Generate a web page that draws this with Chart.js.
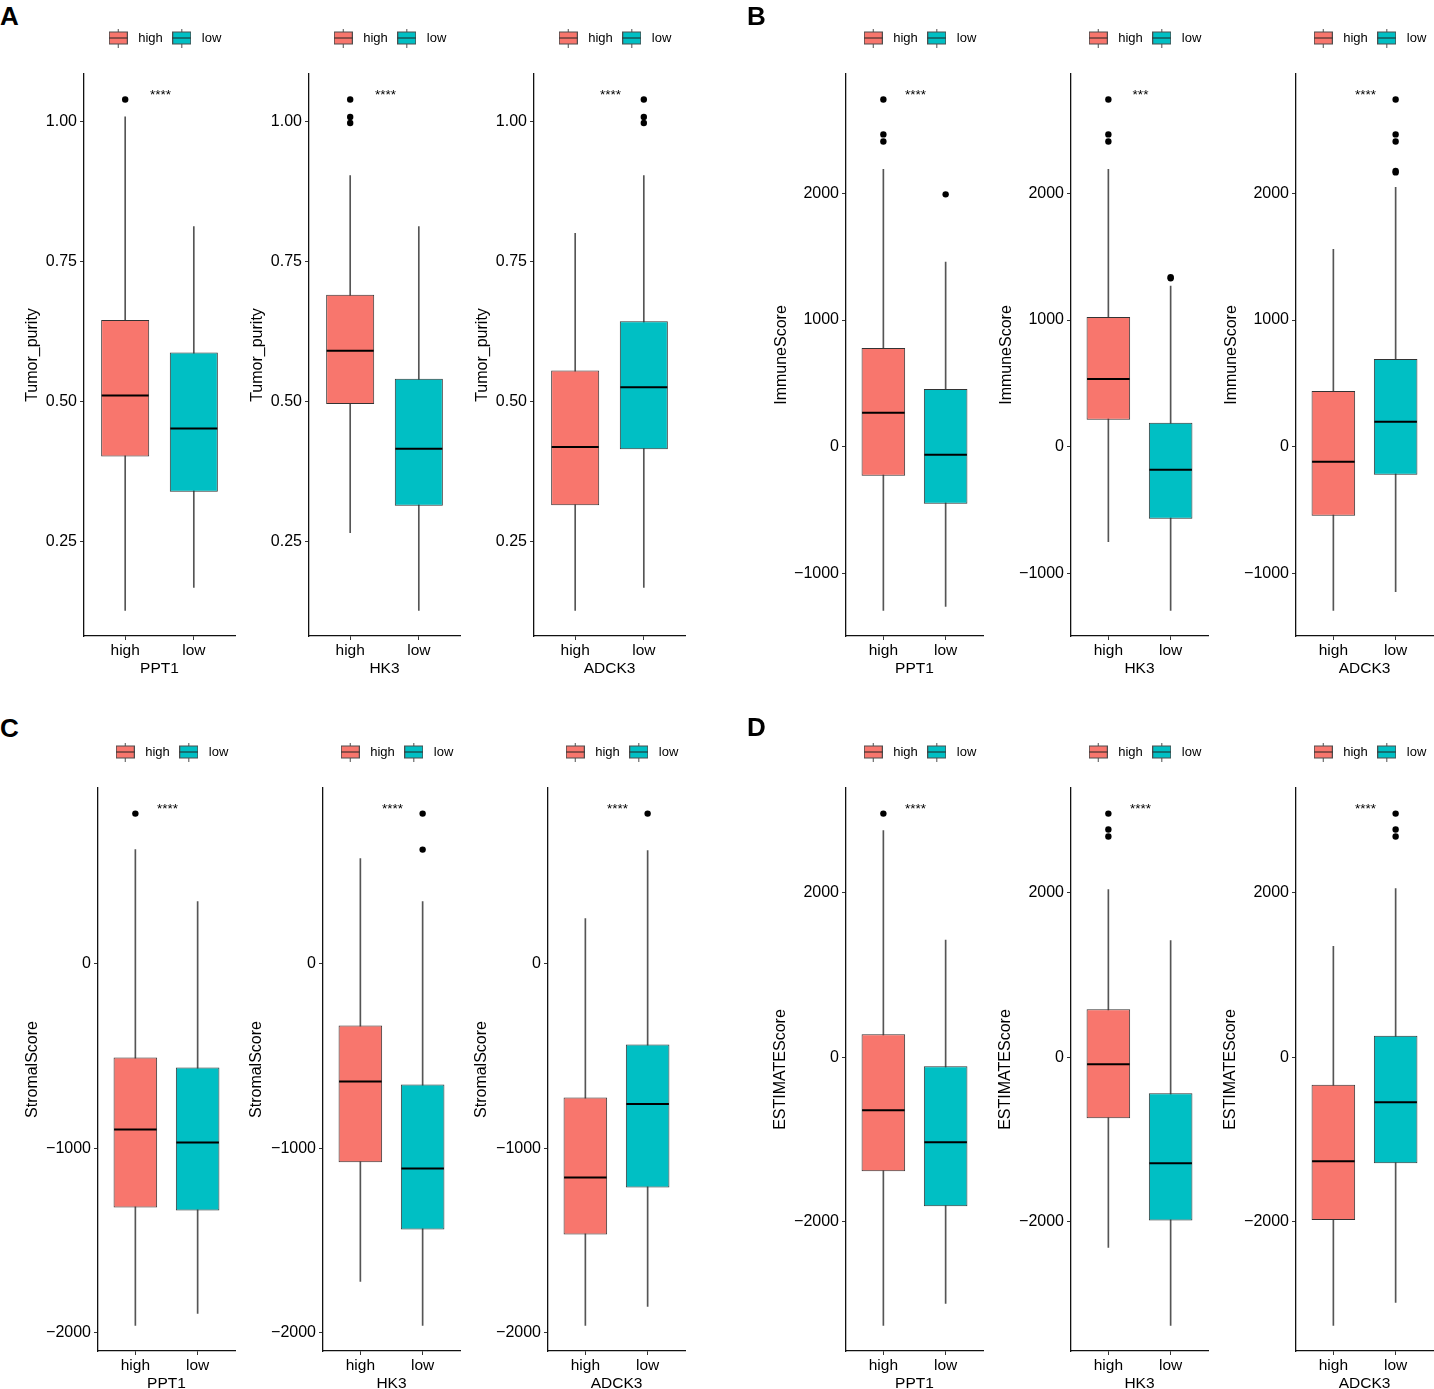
<!DOCTYPE html>
<html>
<head>
<meta charset="utf-8">
<script src="https://cdn.jsdelivr.net/npm/chart.js@4.4.1/dist/chart.umd.min.js"></script>
<style>
html,body{margin:0;padding:0;background:#fff;}
#page{position:relative;width:1434px;height:1389px;overflow:hidden;background:#fff;}
.cell{position:absolute;}
.letter{position:absolute;font-family:"Liberation Sans",Arial,sans-serif;font-weight:bold;font-size:26px;line-height:26px;color:#000;}
</style>
</head>
<body>
<div id="page"></div>
<script>
// ---------------- data ----------------
const genes = ['PPT1', 'HK3', 'ADCK3'];
const groups = ['high', 'low'];
const panelLetters = ['A', 'B', 'C', 'D'];
const scoreNames = ['Tumor_purity', 'ImmuneScore', 'StromalScore', 'ESTIMATEScore'];

// five-number summaries per gene: [lower whisker, Q1, median, Q3, upper whisker]
const purityHigh = [[0.127, 0.402, 0.511, 0.646, 1.009], [0.266, 0.496, 0.591, 0.691, 0.904], [0.127, 0.315, 0.419, 0.556, 0.801]];
const purityLow  = [[0.168, 0.339, 0.452, 0.588, 0.813], [0.127, 0.314, 0.416, 0.541, 0.813], [0.168, 0.415, 0.526, 0.644, 0.904]];
const purityHighOut = [[1.04], [1.04, 1.009, 0.998], []];
const purityLowOut  = [[], [], [1.04, 1.009, 0.998]];

const immuneHigh = [[-1291, -228, 268, 780, 2189], [-748, 213, 535, 1024, 2189], [-1291, -543, -118, 441, 1559]];
const immuneLow  = [[-1260, -449, -63, 457, 1457], [-1291, -567, -181, 189, 1268], [-1142, -220, 197, 693, 2047]];
const immuneHighOut = [[2740, 2465, 2409], [2740, 2465, 2409], []];
const immuneLowOut  = [[1992], [1339, 1330], [2740, 2465, 2409, 2177, 2165]];

const stromalHigh = [[-1960, -1321, -899, -509, 617], [-1722, -1077, -639, -336, 568], [-1960, -1467, -1159, -725, 244]];
const stromalLow  = [[-1895, -1337, -969, -563, 336], [-1960, -1440, -1110, -655, 336], [-1857, -1213, -761, -438, 612]];
const stromalHighOut = [[812], [], []];
const stromalLowOut  = [[], [812, 617], [812]];

const estimateHigh = [[-3258, -1386, -644, 280, 2754], [-2310, -742, -85, 584, 2036], [-3258, -1976, -1265, -334, 1346]];
const estimateLow  = [[-2991, -1811, -1033, -109, 1422], [-3258, -1982, -1289, -438, 1416], [-2979, -1289, -547, 261, 2049]];
const estimateHighOut = [[2960], [2960, 2766, 2681], []];
const estimateLowOut  = [[], [], [2960, 2766, 2681]];

const purityTicks = [0.25, 0.5, 0.75, 1.0];
const purityTickLabels = ['0.25', '0.50', '0.75', '1.00'];
const immuneTicks = [-1000, 0, 1000, 2000];
const immuneTickLabels = ['\u22121000', '0', '1000', '2000'];
const stromalTicks = [-2000, -1000, 0];
const stromalTickLabels = ['\u22122000', '\u22121000', '0'];
const estimateTicks = [-2000, 0, 2000];
const estimateTickLabels = ['\u22122000', '0', '2000'];

const puritySig = ['****', '****', '****'];
const immuneSig = ['****', '***', '****'];
const stromalSig = ['****', '****', '****'];
const estimateSig = ['****', '****', '****'];

const panelHigh = [purityHigh, immuneHigh, stromalHigh, estimateHigh];
const panelLow = [purityLow, immuneLow, stromalLow, estimateLow];
const panelHighOut = [purityHighOut, immuneHighOut, stromalHighOut, estimateHighOut];
const panelLowOut = [purityLowOut, immuneLowOut, stromalLowOut, estimateLowOut];
const panelTicks = [purityTicks, immuneTicks, stromalTicks, estimateTicks];
const panelTickLabels = [purityTickLabels, immuneTickLabels, stromalTickLabels, estimateTickLabels];
const panelSig = [puritySig, immuneSig, stromalSig, estimateSig];

// ---------------- layout / style ----------------
const FAMILY = '"Liberation Sans", Arial, sans-serif';
const FILLS = ['#F8766D', '#00BFC4'];
const ROW_TOP = [0, 714];
const PANEL_ROW = [0, 0, 1, 1];
const AXIS_X = [[84, 309, 534], [846, 1071, 1296], [98, 323, 548], [846, 1071, 1296]];
const PLOT_W = [151, 137, 137, 137];
const YTITLE_X = [[32.5, 258, 483], [782, 1007, 1232], [32.5, 257, 482], [781, 1006, 1231]];
const LETTER_POS = [[0, 3], [747, 3], [0, 715], [747, 714]];
const PLOT_TOP = 74;
const PLOT_H = [562, 563];
const X_AXIS_H = 42;
const LEGEND_SHIFT = 3.5;
const X_FONT = 15.5;
const Y_FONT = 16;

function makeKey(fill) {
  const c = document.createElement('canvas');
  c.width = 19; c.height = 19;
  const g = c.getContext('2d');
  g.strokeStyle = '#4d4d4d'; g.lineWidth = 1;
  g.beginPath(); g.moveTo(9.5, 0); g.lineTo(9.5, 3.5); g.moveTo(9.5, 15.5); g.lineTo(9.5, 19); g.stroke();
  g.fillStyle = fill; g.fillRect(0.5, 3.5, 18, 12);
  g.strokeRect(0.5, 3.5, 18, 12);
  g.strokeStyle = '#222'; g.beginPath(); g.moveTo(0.5, 9.5); g.lineTo(18.5, 9.5); g.stroke();
  return c;
}
const keyImgs = FILLS.map(makeKey);

const medianPlugin = {
  id: 'medians',
  afterDatasetsDraw(chart) {
    const ctx = chart.ctx, y = chart.scales.y;
    chart.data.datasets.forEach((d, di) => {
      if (!d.medians) return;
      const meta = chart.getDatasetMeta(di);
      ctx.save();
      ctx.strokeStyle = '#000'; ctx.lineWidth = 2;
      meta.data.forEach((el, i) => {
        const py = y.getPixelForValue(d.medians[i]);
        ctx.beginPath();
        ctx.moveTo(el.x - el.width / 2 + 0.5, py);
        ctx.lineTo(el.x + el.width / 2 - 0.5, py);
        ctx.stroke();
      });
      ctx.restore();
    });
  }
};

const sigPlugin = {
  id: 'sig',
  afterDraw(chart, args, opts) {
    const {ctx, chartArea} = chart;
    ctx.save();
    ctx.font = '13.5px ' + FAMILY;
    ctx.fillStyle = '#000';
    ctx.textAlign = 'center';
    ctx.textBaseline = 'alphabetic';
    ctx.fillText(opts.text, chart.scales.x.getPixelForValue(1.5) + 1, chartArea.top + 25);
    ctx.restore();
  }
};

const page = document.getElementById('page');

for (let p = 0; p < 4; p++) {
  const letter = document.createElement('div');
  letter.className = 'letter';
  letter.textContent = panelLetters[p];
  letter.style.left = LETTER_POS[p][0] + 'px';
  letter.style.top = LETTER_POS[p][1] + 'px';
  page.appendChild(letter);

  const row = PANEL_ROW[p];
  for (let g = 0; g < 3; g++) {
    const hi = panelHigh[p][g], lo = panelLow[p][g];
    const hiOut = panelHighOut[p][g], loOut = panelLowOut[p][g];
    const stats = [hi, lo];
    const outs = [hiOut, loOut];

    const allVals = [].concat(hi, lo, hiOut, loOut);
    const vMin = Math.min(...allVals), vMax = Math.max(...allVals);
    const span = vMax - vMin;
    const yMin = vMin - 0.05 * span, yMax = vMax + 0.05 * span;

    const axisX = AXIS_X[p][g];
    const plotW = PLOT_W[p];
    const CL = Math.round(YTITLE_X[p][g] - Y_FONT * 0.6);
    const yw = axisX - CL;
    const legendC = axisX + plotW / 2 + LEGEND_SHIFT;
    const CW = Math.round(2 * (legendC - CL));
    const wR = CL + CW - (axisX + plotW);
    const H = PLOT_TOP + PLOT_H[row] + X_AXIS_H;

    const cell = document.createElement('div');
    cell.className = 'cell';
    cell.style.left = CL + 'px';
    cell.style.top = ROW_TOP[row] + 'px';
    cell.style.width = CW + 'px';
    cell.style.height = H + 'px';
    const canvas = document.createElement('canvas');
    cell.appendChild(canvas);
    page.appendChild(cell);

    const boxData = stats.map((s, i) => ({x: i + 1, y: [s[1], s[3]]}));
    const whiskerData = stats.map((s, i) => ({x: i + 1, y: [s[0], s[4]]}));
    const outData = [];
    outs.forEach((arr, i) => arr.forEach(v => outData.push({x: i + 1, y: v})));

    const ticks = panelTicks[p], tickLabels = panelTickLabels[p];

    new Chart(canvas, {
      type: 'bar',
      data: {
        datasets: [
          {type: 'scatter', label: 'outliers', data: outData, pointRadius: 3.2, pointHoverRadius: 3.2,
           backgroundColor: '#000', borderWidth: 0, order: 0},
          {type: 'bar', label: 'box', data: boxData, backgroundColor: FILLS, borderColor: '#333',
           borderWidth: 1, borderSkipped: false, barPercentage: 0.7, categoryPercentage: 1,
           grouped: false, order: 1, medians: stats.map(s => s[2])},
          {type: 'bar', label: 'whisker', data: whiskerData, backgroundColor: '#555', borderWidth: 0,
           barThickness: 1, grouped: false, order: 2}
        ]
      },
      options: {
        responsive: true,
        maintainAspectRatio: false,
        animation: false,
        events: [],
        layout: {padding: {top: 26, left: 0, right: 0, bottom: 0}},
        scales: {
          x: {
            type: 'linear', position: 'bottom', min: 0.4, max: 2.6, bounds: 'data', offset: false,
            afterBuildTicks: s => { s.ticks = [{value: 1}, {value: 2}]; },
            afterFit: s => { s.height = X_AXIS_H; },
            ticks: {callback: (v, i) => groups[i], font: {family: FAMILY, size: X_FONT}, color: '#000',
                    padding: 1, maxRotation: 0, autoSkip: false},
            grid: {offset: false, drawOnChartArea: false, drawTicks: true, tickLength: 4, color: '#333', lineWidth: 1},
            border: {display: true, color: '#111', width: 1.3},
            title: {display: true, text: genes[g], font: {family: FAMILY, size: X_FONT}, color: '#000', padding: 0}
          },
          y: {
            type: 'linear', position: 'left', min: yMin, max: yMax, bounds: 'data',
            afterBuildTicks: s => { s.ticks = ticks.map(v => ({value: v})); },
            afterFit: s => { s.width = yw; },
            ticks: {callback: (v, i) => tickLabels[i], font: {family: FAMILY, size: Y_FONT}, color: '#000',
                    padding: 3, autoSkip: false},
            grid: {drawOnChartArea: false, drawTicks: true, tickLength: 4, color: '#333', lineWidth: 1},
            border: {display: true, color: '#111', width: 1.3},
            title: {display: true, text: scoreNames[p], font: {family: FAMILY, size: Y_FONT}, color: '#000', padding: 0}
          },
          yR: {
            type: 'linear', position: 'right', display: true,
            grid: {display: false}, border: {display: false}, ticks: {display: false},
            afterFit: s => { s.width = wR; }
          }
        },
        plugins: {
          tooltip: {enabled: false},
          legend: {
            display: true, position: 'top', align: 'center', weight: 1000,
            onClick: () => {},
            labels: {
              usePointStyle: true, pointStyleWidth: 27, padding: 5.5, color: '#000',
              font: {family: FAMILY, size: 13},
              generateLabels: () => groups.map((name, i) => ({
                text: name, pointStyle: keyImgs[i], fillStyle: FILLS[i], strokeStyle: '#555',
                lineWidth: 0, hidden: false, datasetIndex: 1, index: i, fontColor: '#000'
              }))
            }
          },
          title: {display: true, text: '', position: 'top', weight: 500, font: {size: 10}, padding: {top: 0, bottom: 7.5}},
          sig: {text: panelSig[p][g]}
        }
      },
      plugins: [medianPlugin, sigPlugin]
    });
  }
}
</script>
</body>
</html>
